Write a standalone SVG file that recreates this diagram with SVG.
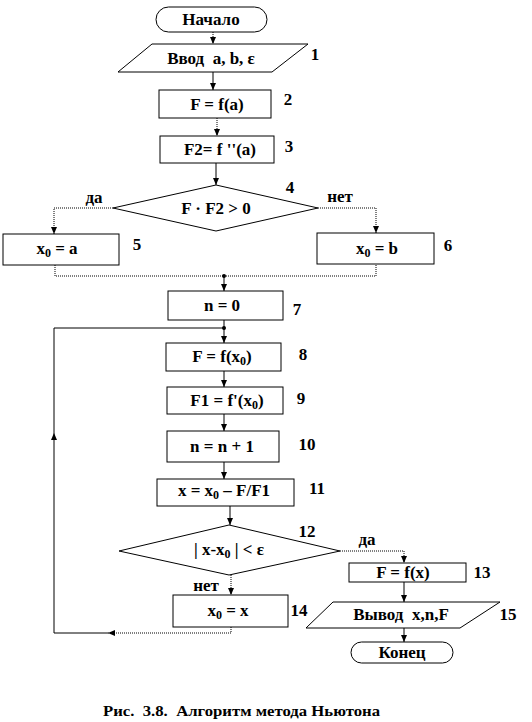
<svg xmlns="http://www.w3.org/2000/svg" width="532" height="722" viewBox="0 0 532 722">
<style>
.s{fill:#fff;stroke:#000;stroke-width:1}
.t,.n,.cap{font-family:'Liberation Serif','Tinos','DejaVu Serif',serif;font-weight:bold;fill:#000}
.t,.n{font-size:17px;text-anchor:middle}
.cap{font-size:14px}
.c{fill:none;stroke:#000;stroke-width:1}
.d{stroke-dasharray:1,1}
.sub{font-size:12px}
</style>
<defs>
<marker id="a" markerUnits="userSpaceOnUse" markerWidth="8" markerHeight="8" viewBox="0 0 8 8" refX="7" refY="4" orient="auto">
<path d="M0,1 L7,4 L0,7 Z" fill="#000"/>
</marker>
</defs>
<rect width="532" height="722" fill="#fff"/>
<g id="connectors">
<path class="c d" d="M213,32 V44" marker-end="url(#a)"/>
<path class="c" d="M213,72 V90" marker-end="url(#a)"/>
<path class="c d" d="M217,118 V136" marker-end="url(#a)"/>
<path class="c" d="M216,163 V185" marker-end="url(#a)"/>
<path class="c d" d="M113,208 H54 V234" marker-end="url(#a)"/>
<path class="c d" d="M318,208 H376 V233" marker-end="url(#a)"/>
<path class="c d" d="M55,265 V276 H376 V264"/>
<circle cx="224" cy="276" r="2"/>
<path class="c" d="M224,276 V291" marker-end="url(#a)"/>
<path class="c" d="M224,320 V343" marker-end="url(#a)"/>
<circle cx="224" cy="328" r="2"/>
<path class="c d" d="M231,627 V633 H108" marker-end="url(#a)"/>
<path class="c" d="M108,633 H54 V433" marker-end="url(#a)"/>
<path class="c" d="M54,433 V328 H224"/>
<path class="c" d="M224,371 V387" marker-end="url(#a)"/>
<path class="c" d="M224,414 V431" marker-end="url(#a)"/>
<path class="c" d="M224,462 V479" marker-end="url(#a)"/>
<path class="c" d="M230,506 V525" marker-end="url(#a)"/>
<path class="c d" d="M340,551 H404 V563" marker-end="url(#a)"/>
<path class="c d" d="M231,575 V595" marker-end="url(#a)"/>
<path class="c" d="M404,582 V602" marker-end="url(#a)"/>
<path class="c" d="M404,628 V642" marker-end="url(#a)"/>
</g>
<g id="start">
<rect class="s" x="156" y="7" width="111" height="25" rx="12.5"/>
<text class="t" x="211" y="25">Начало</text>
</g>
<g id="n1">
<polygon class="s" points="152,44 308,44 272,72 118,72"/>
<text class="t" x="211" y="64" xml:space="preserve">Ввод  a, b, ε</text>
<text class="n" x="315" y="60">1</text>
</g>
<g id="n2">
<rect class="s" x="159" y="90" width="112" height="28"/>
<text class="t" x="217" y="110">F = f(a)</text>
<text class="n" x="288" y="105">2</text>
</g>
<g id="n3">
<rect class="s" x="160" y="136" width="114" height="27"/>
<text class="t" x="220" y="155">F2= f ''(a)</text>
<text class="n" x="289" y="152">3</text>
</g>
<g id="n4">
<polygon class="s" points="216,185 318,208 216,231 113,208"/>
<text class="t" x="216" y="214">F · F2 &gt; 0</text>
<text class="n" x="290" y="193">4</text>
<text class="n" x="94" y="203">да</text>
<text class="n" x="340" y="202">нет</text>
</g>
<g id="n5">
<rect class="s" x="3" y="234" width="116" height="31"/>
<text class="t" x="57" y="254">x<tspan class="sub" dy="3">0</tspan><tspan dy="-3"> = a</tspan></text>
<text class="n" x="137" y="250">5</text>
</g>
<g id="n6">
<rect class="s" x="317" y="233" width="117" height="31"/>
<text class="t" x="377" y="254">x<tspan class="sub" dy="3">0</tspan><tspan dy="-3"> = b</tspan></text>
<text class="n" x="448" y="251">6</text>
</g>
<g id="n7">
<rect class="s" x="168" y="291" width="115" height="29"/>
<text class="t" x="222" y="311">n = 0</text>
<text class="n" x="297" y="315">7</text>
</g>
<g id="n8">
<rect class="s" x="166" y="343" width="115" height="28"/>
<text class="t" x="222" y="362">F = f(x<tspan class="sub" dy="3">0</tspan><tspan dy="-3">)</tspan></text>
<text class="n" x="303" y="360">8</text>
</g>
<g id="n9">
<rect class="s" x="167" y="387" width="116" height="27"/>
<text class="t" x="227" y="406">F1 = f'(x<tspan class="sub" dy="3">0</tspan><tspan dy="-3">)</tspan></text>
<text class="n" x="301" y="404">9</text>
</g>
<g id="n10">
<rect class="s" x="167" y="431" width="112" height="31"/>
<text class="t" x="222" y="452">n = n + 1</text>
<text class="n" x="307" y="450">10</text>
</g>
<g id="n11">
<rect class="s" x="157" y="479" width="137" height="27"/>
<text class="t" x="224" y="496" xml:space="preserve">x = x<tspan class="sub" dy="3">0</tspan><tspan dy="-3"> – F/F1</tspan></text>
<text class="n" x="317" y="494">11</text>
</g>
<g id="n12">
<polygon class="s" points="229,525 340,551 229,575 119,551"/>
<text class="t" x="229" y="555">| x-x<tspan class="sub" dy="3">0</tspan><tspan dy="-3"> | &lt; ε</tspan></text>
<text class="n" x="307" y="537">12</text>
<text class="n" x="367" y="545">да</text>
<text class="n" x="206" y="591">нет</text>
</g>
<g id="n13">
<rect class="s" x="349" y="563" width="117" height="19"/>
<text class="t" x="403" y="578">F = f(x)</text>
<text class="n" x="482" y="578">13</text>
</g>
<g id="n14">
<rect class="s" x="173" y="595" width="115" height="32"/>
<text class="t" x="228" y="616">x<tspan class="sub" dy="3">0</tspan><tspan dy="-3"> = x</tspan></text>
<text class="n" x="299" y="616">14</text>
</g>
<g id="n15">
<polygon class="s" points="333,602 500,602 460,628 306,628"/>
<text class="t" x="401" y="620" xml:space="preserve">Вывод  x,n,F</text>
<text class="n" x="508" y="620">15</text>
</g>
<g id="end">
<rect class="s" x="351" y="642" width="102" height="21" rx="10.5"/>
<text class="t" x="402" y="658">Конец</text>
</g>
<text class="cap" x="103" y="716" textLength="277" lengthAdjust="spacingAndGlyphs" xml:space="preserve">Рис.  3.8.  Алгоритм метода Ньютона</text>
</svg>
